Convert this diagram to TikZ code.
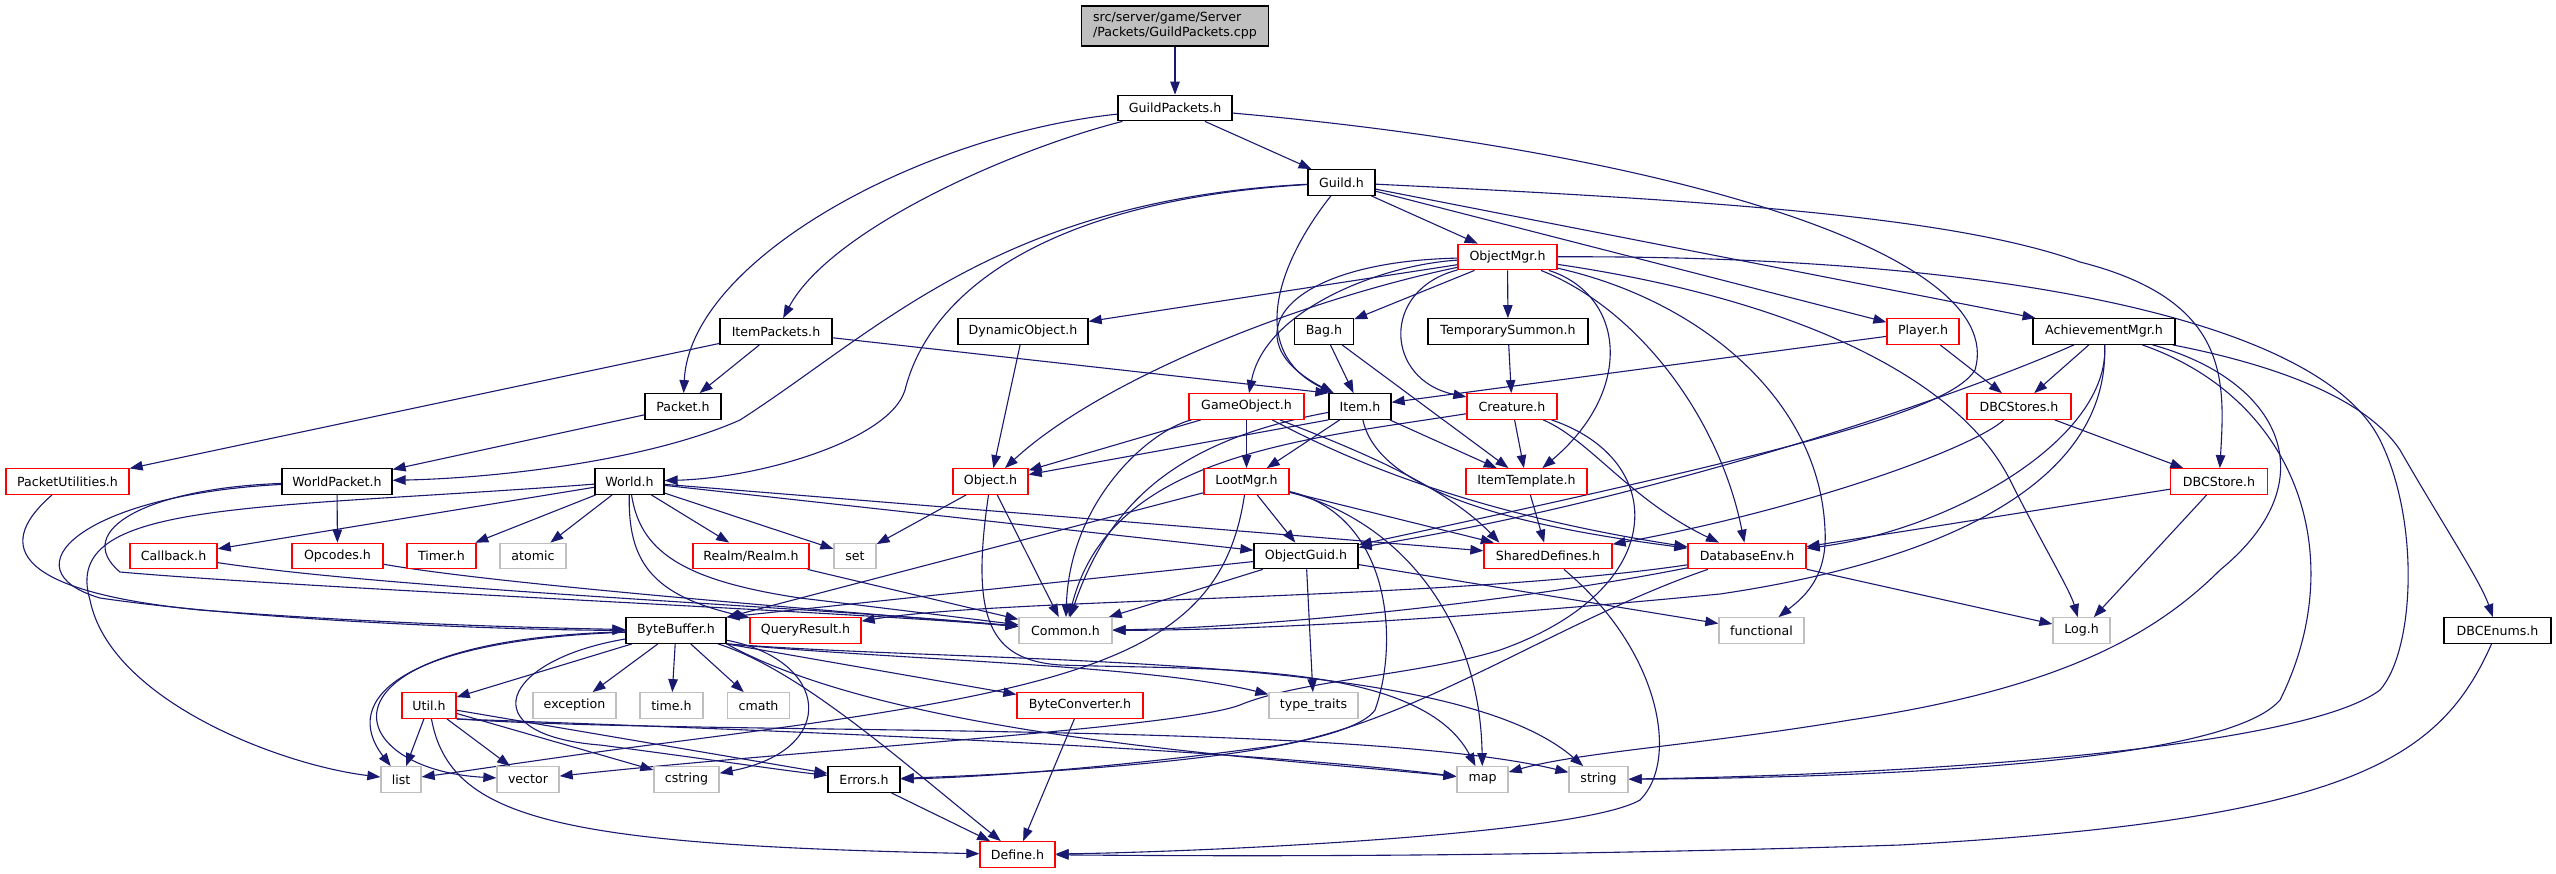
\documentclass[tikz,border=0pt]{standalone}
\usepackage{fontspec}
\setmainfont{DejaVu Sans}
\usetikzlibrary{arrows.meta}
\definecolor{edgec}{HTML}{191970}
\definecolor{redc}{HTML}{FF0000}
\definecolor{grayc}{HTML}{BFBFBF}
\pgfdeclarelayer{back}
\pgfdeclarelayer{edgelayer}
\pgfsetlayers{back,edgelayer,main}
\tikzset{
  nbase/.style={draw, line width=1.3pt, fill=white, minimum height=25.5pt, inner sep=0pt, font=\fontsize{12.6}{15}\selectfont},
  blkbox/.style={nbase, draw=black},
  redbox/.style={nbase, draw=redc},
  graybox/.style={nbase, draw=grayc},
  ed/.style={draw=edgec, line width=1.1pt, -{Triangle[length=13pt,width=9.5pt]}},
}
\newcommand{\mknode}[5]{\node[#1, minimum width=#4pt] (#2) at (#3) {#5};}
\begin{document}
\begin{tikzpicture}[x=1pt,y=-1pt]
\begin{pgfonlayer}{back}
\fill[white] (0,0) rectangle (2556,873);
\end{pgfonlayer}
\useasboundingbox (0,0) rectangle (2556,873);
% ---------- nodes ----------
\node[blkbox, fill=grayc, minimum width=187pt, minimum height=40pt, align=left] (src) at (1175,26) {src/server/game/Server\\/Packets/GuildPackets.cpp};
\mknode{blkbox}{gp}{1175,108}{114}{GuildPackets.h}
\mknode{blkbox}{guild}{1341.5,182.5}{67}{Guild.h}
\mknode{redbox}{om}{1507.5,257}{99}{ObjectMgr.h}
\mknode{blkbox}{ip}{776,331.5}{112}{ItemPackets.h}
\mknode{blkbox}{dyn}{1023,331.5}{130}{DynamicObject.h}
\mknode{blkbox}{bag}{1324,331.5}{59}{Bag.h}
\mknode{blkbox}{ts}{1508,331.5}{160}{TemporarySummon.h}
\mknode{redbox}{pl}{1923,331.5}{72}{Player.h}
\mknode{blkbox}{am}{2104,331.5}{142}{AchievementMgr.h}
\mknode{blkbox}{pk}{683,406.5}{76}{Packet.h}
\mknode{redbox}{go}{1246.5,406.5}{115}{GameObject.h}
\mknode{blkbox}{item}{1360,406.5}{62}{Item.h}
\mknode{redbox}{cr}{1512,406.5}{90}{Creature.h}
\mknode{redbox}{dbcs}{2019,406.5}{104}{DBCStores.h}
\mknode{redbox}{pu}{67.5,481.5}{123}{PacketUtilities.h}
\mknode{blkbox}{wp}{337,481.5}{110}{WorldPacket.h}
\mknode{blkbox}{world}{629.5,481.5}{69}{World.h}
\mknode{redbox}{obj}{990.5,481.5}{75}{Object.h}
\mknode{redbox}{loot}{1246.5,481.5}{85}{LootMgr.h}
\mknode{redbox}{itt}{1526.5,481.5}{121}{ItemTemplate.h}
\mknode{redbox}{dbc}{2219,481.5}{97}{DBCStore.h}
\mknode{redbox}{cb}{173.5,556}{87}{Callback.h}
\mknode{redbox}{opc}{337.5,556}{91}{Opcodes.h}
\mknode{redbox}{timer}{441.5,556}{69}{Timer.h}
\mknode{graybox}{atomic}{533,556}{66}{atomic}
\mknode{redbox}{realm}{751,556}{116}{Realm/Realm.h}
\mknode{graybox}{set}{855,556}{42}{set}
\mknode{blkbox}{og}{1306,556}{104}{ObjectGuid.h}
\mknode{redbox}{sd}{1548,556}{128}{SharedDefines.h}
\mknode{redbox}{db}{1747,556}{118}{DatabaseEnv.h}
\mknode{blkbox}{bb}{676,630.5}{100}{ByteBuffer.h}
\mknode{redbox}{qr}{805.5,630.5}{111}{QueryResult.h}
\mknode{graybox}{common}{1065.5,630.5}{93}{Common.h}
\mknode{graybox}{func}{1761.5,630.5}{85}{functional}
\mknode{graybox}{log}{2081.5,630.5}{57}{Log.h}
\mknode{blkbox}{dbce}{2497.5,630.5}{107}{DBCEnums.h}
\mknode{redbox}{util}{429,705.5}{54}{Util.h}
\mknode{graybox}{exc}{574.5,705.5}{83}{exception}
\mknode{graybox}{time}{671.5,705.5}{63}{time.h}
\mknode{graybox}{cmath}{758.5,705.5}{62}{cmath}
\mknode{redbox}{bc}{1080,705.5}{126}{ByteConverter.h}
\mknode{graybox}{tt}{1313.5,705.5}{89}{type\_traits}
\mknode{graybox}{list}{401,779.5}{40}{list}
\mknode{graybox}{vec}{528,779.5}{62}{vector}
\mknode{graybox}{cstr}{686.5,779.5}{65}{cstring}
\mknode{blkbox}{err}{864,779.5}{72}{Errors.h}
\mknode{graybox}{map}{1482.5,779.5}{51}{map}
\mknode{graybox}{str}{1598.5,779.5}{59}{string}
\mknode{redbox}{def}{1017.5,854.5}{75}{Define.h}
% ---------- edges ----------
\begin{pgfonlayer}{edgelayer}
\draw[ed] (src) -- (gp);
\draw[ed] (gp) .. controls (920,135) and (690,260) .. (pk);
\draw[ed] (gp) .. controls (1010,150) and (830,230) .. (ip);
\draw[ed] (gp) -- (guild);
\draw[ed] (gp) .. controls (1650,150) and (2010,250) .. (1975,370) .. controls (1950,410) and (1800,450) .. (og);
% Guild
\draw[ed] (guild) .. controls (1000,200) and (880,330) .. (740,420) .. controls (650,460) and (500,478) .. (wp);
\draw[ed] (guild) .. controls (1050,200) and (930,290) .. (905,390) .. controls (890,440) and (760,478) .. (world);
\draw[ed] (guild) .. controls (1280,260) and (1245,350) .. (item);
\draw[ed] (guild) -- (om);
\draw[ed] (guild) -- (pl);
\draw[ed] (guild) -- (am);
\draw[ed] (guild) .. controls (1700,200) and (1950,215) .. (2080,262) .. controls (2230,300) and (2225,380) .. (dbc);
% ObjectMgr
\draw[ed] (om) -- (dyn);
\draw[ed] (om) .. controls (1300,300) and (1100,380) .. (obj);
\draw[ed] (om) .. controls (1380,265) and (1265,310) .. (go);
\draw[ed] (om) .. controls (1280,262) and (1230,340) .. (item);
\draw[ed] (om) -- (bag);
\draw[ed] (om) -- (ts);
\draw[ed] (om) .. controls (1380,290) and (1385,380) .. (cr);
\draw[ed] (om) .. controls (1625,295) and (1635,390) .. (itt);
\draw[ed] (om) .. controls (1640,310) and (1720,420) .. (db);
\draw[ed] (om) .. controls (1700,300) and (1820,400) .. (1825,530) .. controls (1828,580) and (1800,600) .. (func);
\draw[ed] (om) .. controls (1800,300) and (1960,380) .. (2010,480) .. controls (2040,540) and (2070,590) .. (log);
\draw[ed] (om) .. controls (2000,255) and (2320,320) .. (2380,440) .. controls (2420,520) and (2415,650) .. (2380,690) .. controls (2300,750) and (1900,775) .. (str);
% row 5
\draw[ed] (ip) -- (pk);
\draw[ed] (ip) -- (item.north west);
\draw[ed] (ip) -- (pu);
\draw[ed] (dyn) -- (obj);
\draw[ed] (bag) -- (item);
\draw[ed] (bag) -- (itt);
\draw[ed] (ts) -- (cr);
\draw[ed] (pl) -- (item);
\draw[ed] (pl) -- (dbcs);
\draw[ed] (am) -- (dbcs);
\draw[ed] (am) .. controls (1950,400) and (1650,500) .. (og);
\draw[ed] (am) .. controls (2110,440) and (1950,530) .. (db);
\draw[ed] (am) .. controls (2110,480) and (1950,560) .. (1720,594) .. controls (1450,620) and (1250,630) .. (common);
\draw[ed] (am) .. controls (2280,380) and (2330,480) .. (2220,570) .. controls (2150,640) and (2050,690) .. (1850,720) .. controls (1700,745) and (1580,752) .. (map);
\draw[ed] (am) .. controls (2300,400) and (2350,560) .. (2280,700) .. controls (2220,770) and (1800,778) .. (str);
\draw[ed] (am) .. controls (2250,360) and (2360,390) .. (2400,450) .. controls (2440,520) and (2480,580) .. (dbce);
% row 6
\draw[ed] (pk) -- (wp);
\draw[ed] (go) -- (obj);
\draw[ed] (go) -- (loot);
\draw[ed] (go) .. controls (1150,430) and (1070,500) .. (common);
\draw[ed] (go) .. controls (1330,440) and (1440,480) .. ([xshift=16pt]sd.north west);
\draw[ed] (go) .. controls (1330,450) and (1450,510) .. (db);
\draw[ed] (item.south west) -- (obj);
\draw[ed] (item) -- (loot);
\draw[ed] (item) -- (itt);
\draw[ed] (item) .. controls (1180,440) and (1110,500) .. (common);
\draw[ed] (item) .. controls (1380,500) and (1550,530) .. (db);
\draw[ed] (cr) .. controls (1300,440) and (1110,455) .. (common);
\draw[ed] (cr) -- (itt);
\draw[ed] (cr) .. controls (1590,440) and (1630,500) .. (db);
\draw[ed] (cr) .. controls (1670,460) and (1670,590) .. (1500,650) .. controls (1420,675) and (1300,680) .. (1240,705) .. controls (1180,728) and (800,750) .. (vec);
\draw[ed] (dbcs) -- (dbc);
\draw[ed] (dbcs) .. controls (1970,450) and (1800,510) .. (sd);
% row 7
\draw[ed] (pu) .. controls (0,540) and (0,590) .. (200,610) .. controls (400,625) and (550,628) .. (bb);
\draw[ed] (wp) .. controls (80,495) and (5,570) .. (100,598) .. controls (250,620) and (500,630) .. (bb);
\draw[ed] (wp) -- (opc);
\draw[ed] (wp) .. controls (150,488) and (70,530) .. (120,572) .. controls (300,588) and (850,612) .. (common);
\draw[ed] (world) -- (cb);
\draw[ed] (world) -- (timer);
\draw[ed] (world) -- (atomic);
\draw[ed] (world) -- (realm);
\draw[ed] (world) -- (set);
\draw[ed] (world) -- (og);
\draw[ed] (world) -- (sd);
\draw[ed] (world) .. controls (250,510) and (60,500) .. (90,600) .. controls (110,700) and (280,765) .. (list);
\draw[ed] (world) .. controls (640,550) and (680,580) .. (800,598) .. controls (900,610) and (980,620) .. (common);
\draw[ed] (world) .. controls (628,560) and (650,595) .. (qr);
\draw[ed] (obj) -- (set);
\draw[ed] (obj) -- (common);
\draw[ed] (obj) .. controls (970,620) and (990,660) .. (1060,665) .. controls (1200,670) and (1420,660) .. (map);
\draw[ed] (loot) -- (og);
\draw[ed] (loot) -- (bb);
\draw[ed] (loot) -- (sd);
\draw[ed] (loot) .. controls (1400,520) and (1480,620) .. (map);
\draw[ed] (loot) .. controls (1220,660) and (1080,690) .. (650,745) .. controls (550,758) and (460,772) .. (list);
\draw[ed] (loot) .. controls (1390,515) and (1400,640) .. (1375,710) .. controls (1340,760) and (1000,775) .. (err);
\draw[ed] (itt) -- (sd);
\draw[ed] (dbc) -- (db);
\draw[ed] (dbc) -- (log);
% row 8
\draw[ed] (cb) .. controls (400,590) and (800,606) .. (common);
\draw[ed] (opc) .. controls (500,585) and (850,612) .. (common);
\draw[ed] (realm) -- (common);
\draw[ed] (og) -- (common);
\draw[ed] (og) -- (tt);
\draw[ed] (og) -- (func);
\draw[ed] (og) -- (bb.north east);
\draw[ed] (sd) .. controls (1660,650) and (1680,760) .. (1640,800) .. controls (1580,835) and (1200,852) .. (def);
\draw[ed] (db) .. controls (1450,600) and (1000,598) .. (qr);
\draw[ed] (db) .. controls (1500,605) and (1250,628) .. (common);
\draw[ed] (db) .. controls (1560,620) and (1420,720) .. (1280,745) .. controls (1100,770) and (960,778) .. (err);
\draw[ed] (db) -- (log);
% ByteBuffer and below
\draw[ed] (bb) -- (util);
\draw[ed] (bb) -- (exc);
\draw[ed] (bb) -- (time);
\draw[ed] (bb) -- (cmath);
\draw[ed] (bb.south east) -- (bc);
\draw[ed] (bb.south east) .. controls (900,660) and (1150,665) .. (tt);
\draw[ed] (bb) .. controls (400,640) and (340,700) .. (list);
\draw[ed] (bb) .. controls (300,640) and (340,770) .. (vec);
\draw[ed] (bb) .. controls (830,660) and (840,750) .. (cstr);
\draw[ed] (bb) .. controls (500,660) and (470,735) .. (600,745) .. controls (700,758) and (780,770) .. (err);
\draw[ed] (bb) .. controls (800,670) and (900,760) .. (def);
\draw[ed] (bb.south east) .. controls (900,740) and (1300,760) .. (map);
\draw[ed] (bb.south east) .. controls (1000,665) and (1450,650) .. (str);
\draw[ed] (util) -- (list);
\draw[ed] (util) -- (vec);
\draw[ed] (util) -- (cstr);
\draw[ed] (util) -- (err);
\draw[ed] (util) .. controls (450,820) and (560,845) .. (def);
\draw[ed] (util.south east) .. controls (700,728) and (1200,745) .. (map);
\draw[ed] (util.south east) .. controls (700,736) and (1350,720) .. (str);
\draw[ed] (bc) -- (def);
\draw[ed] (err) -- (def);
\draw[ed] (dbce) .. controls (2440,760) and (2350,820) .. (1900,845) .. controls (1500,858) and (1200,856) .. (def);
\end{pgfonlayer}
\end{tikzpicture}
\end{document}
